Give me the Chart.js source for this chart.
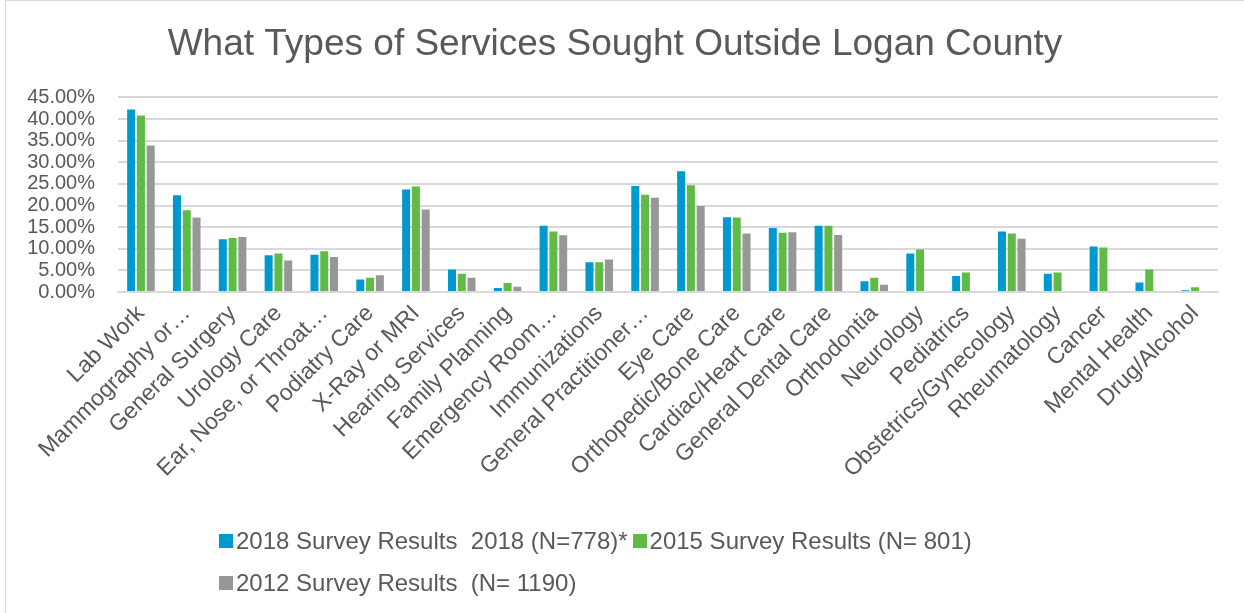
<!DOCTYPE html>
<html>
<head>
<meta charset="utf-8">
<script src="https://cdn.jsdelivr.net/npm/chart.js@4/dist/chart.umd.min.js"></script>
<style>
  html, body { margin: 0; padding: 0; background: #fff; }
  #wrap { position: relative; width: 1244px; height: 613px; overflow: hidden; }
  #frame { position: absolute; left: 5px; top: 0; width: 1250px; height: 620px;
           border-left: 1px solid #d9d9d9; border-top: 1px solid #d9d9d9; }
  #legend { position: absolute; left: 219px; top: 520px; width: 800px; display: flex; flex-wrap: wrap;
            font-family: "Liberation Sans", Arial, sans-serif; font-size: 24px; color: #595959; }
  #legend .item { display: flex; align-items: center; white-space: pre; height: 42px; margin-right: 5px; }
  #legend .box { width: 14px; height: 14px; margin-right: 3px; }
</style>
</head>
<body>
<div id="wrap">
  <canvas id="chart" width="1244" height="613"></canvas>
  <div id="frame"></div>
  <div id="legend"></div>
</div>
<script>
const categories = [
  'Lab Work', 'Mammography or\u2026', 'General Surgery', 'Urology Care', 'Ear, Nose, or Throat\u2026',
  'Podiatry Care', 'X-Ray or MRI', 'Hearing Services', 'Family Planning', 'Emergency Room\u2026',
  'Immunizations', 'General Practitioner\u2026', 'Eye Care', 'Orthopedic/Bone Care', 'Cardiac/Heart Care',
  'General Dental Care', 'Orthodontia', 'Neurology', 'Pediatrics', 'Obstetrics/Gynecology',
  'Rheumatology', 'Cancer', 'Mental Health', 'Drug/Alcohol'
];
const seriesNames = [
  '2018 Survey Results  2018 (N=778)*',
  '2015 Survey Results (N= 801)',
  '2012 Survey Results  (N= 1190)'
];
// percent of respondents
const values2018 = [42.2, 22.4, 12.2, 8.5, 8.6, 2.9, 23.7, 5.2, 0.9, 15.3, 6.9, 24.5, 27.9, 17.3, 14.8, 15.3, 2.5, 8.9, 3.7, 14.0, 4.2, 10.5, 2.2, 0.4];
const values2015 = [40.8, 18.9, 12.5, 8.9, 9.4, 3.3, 24.4, 4.2, 2.1, 14.0, 6.9, 22.5, 24.7, 17.2, 13.7, 15.3, 3.3, 9.8, 4.5, 13.5, 4.5, 10.3, 5.2, 1.1];
const values2012 = [33.9, 17.2, 12.7, 7.3, 8.1, 3.9, 19.1, 3.3, 1.2, 13.1, 7.5, 21.8, 19.9, 13.5, 13.8, 13.2, 1.7, null, null, 12.3, null, null, null, null];
const colors = ['#0099cf', '#5fbb46', '#979797'];
const yTicks = [0, 5, 10, 15, 20, 25, 30, 35, 40, 45];

const gray = '#595959';
const FONT = '"Liberation Sans", Arial, sans-serif';

const datasets = [values2018, values2015, values2012].map((vals, i) => ({
  label: seriesNames[i],
  data: vals,
  backgroundColor: colors[i],
  borderWidth: 0,
  categoryPercentage: 0.64,
  barPercentage: 0.82
}));

const chart = new Chart(document.getElementById('chart'), {
  type: 'bar',
  data: { labels: categories, datasets: datasets },
  options: {
    responsive: false,
    animation: false,
    layout: { padding: { left: 12, right: 26, top: 0, bottom: 111 } },
    plugins: {
      legend: { display: false },
      tooltip: { enabled: false },
      title: {
        display: true,
        text: 'What Types of Services Sought Outside Logan County',
        color: gray,
        font: { family: FONT, size: 37, weight: 'normal' },
        padding: { top: 23, bottom: 30 }
      }
    },
    scales: {
      x: {
        grid: { display: false },
        border: { color: '#d9d9d9', width: 2 },
        afterFit: axis => { axis.height = 210; },
        ticks: {
          color: gray,
          autoSkip: false,
          maxRotation: 45,
          minRotation: 45,
          padding: 0,
          font: { family: FONT, size: 23 }
        }
      },
      y: {
        min: 0,
        max: 45,
        afterBuildTicks: axis => { axis.ticks = yTicks.map(v => ({ value: v })); },
        afterFit: axis => { axis.width = 106; },
        grid: { color: '#d9d9d9', lineWidth: 2, drawTicks: false },
        border: { display: false },
        ticks: {
          color: gray,
          autoSkip: false,
          padding: 23,
          font: { family: FONT, size: 20 },
          callback: v => v.toFixed(2) + '%'
        }
      }
    }
  }
});

// legend built from the chart's own datasets
document.getElementById('legend').innerHTML = chart.data.datasets.map(ds =>
  `<div class="item"><span class="box" style="background:${ds.backgroundColor}"></span>${ds.label}</div>`
).join('');
</script>
</body>
</html>
